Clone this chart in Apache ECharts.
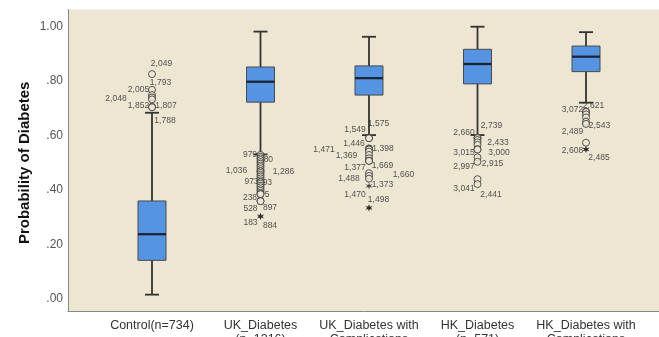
<!DOCTYPE html>
<html>
<head>
<meta charset="utf-8">
<script src="https://cdn.jsdelivr.net/npm/echarts@6/dist/echarts.min.js"></script>
<style>
html,body{margin:0;padding:0;background:#fff;overflow:hidden;}
#chart{width:659px;height:337px;}
</style>
</head>
<body>
<div id="chart"></div>
<script>
// ---------- data ----------
const categories = ['Control(n=734)', 'UK_Diabetes\n(n=1316)', 'UK_Diabetes with\nComplications', 'HK_Diabetes\n(n=571)', 'HK_Diabetes with\nComplications'];
const whiskerLow  = [0.016, 0.531, 0.602, 0.602, 0.721];
const q1          = [0.142, 0.723, 0.749, 0.790, 0.835];
const median      = [0.238, 0.798, 0.811, 0.863, 0.890];
const q3          = [0.360, 0.852, 0.856, 0.917, 0.929];
const whiskerHigh = [0.684, 0.982, 0.963, 1.000, 0.980];
const yTickLabels = ['.00', '.20', '.40', '.60', '.80', '1.00'];

const controlValues = [0.826, 0.768, 0.749, 0.740, 0.733, 0.706, 0.704];
const controlIds    = ['2,049', '1,793', '2,005', '2,048', '', '1,852', '1,807'];
const ukValues = [0.529, 0.522, 0.516, 0.510, 0.503, 0.497, 0.490, 0.484, 0.477, 0.470, 0.469, 0.463, 0.456, 0.450, 0.443, 0.436, 0.430, 0.429, 0.423, 0.416, 0.410, 0.403, 0.397, 0.390, 0.386, 0.385, 0.360, 0.359, 0.305, 0.302];
const ukIds    = ['979', '', '', '980', '', '', '', '', '', '1,036', '1,286', '', '', '', '', '', '973', '993', '', '', '', '', '', '', '238', '5', '528', '897', '183', '884'];
const ukcValues = [0.592, 0.590, 0.553, 0.551, 0.549, 0.541, 0.529, 0.517, 0.508, 0.507, 0.462, 0.452, 0.442, 0.415, 0.335, 0.334];
const ukcIds    = ['1,549', '1,575', '1,446', '1,398', '1,471', '', '1,369', '', '1,377', '1,669', '1,660', '1,488', '', '1,373', '1,470', '1,498'];
const hkValues = [0.592, 0.591, 0.584, 0.575, 0.566, 0.550, 0.549, 0.520, 0.504, 0.440, 0.422];
const hkIds    = ['2,739', '2,660', '2,433', '', '', '3,015', '3,000', '2,915', '2,997', '3,041', '2,441'];
const hkcValues = [0.688, 0.687, 0.678, 0.667, 0.651, 0.643, 0.574, 0.550, 0.549];
const hkcIds    = ['3,072', '2,621', '', '', '2,543', '2,489', '', '2,608', '2,485'];
const whiskerEndIds = ['1,788', '', '', '', ''];

// ---------- label layout (pixel offsets from the point) ----------
const labelOffset = {
  '2,049': [9.5, -10], '1,793': [8.5, -7.2], '2,005': [-13.5, -5.7], '2,048': [-36, 0.8],
  '1,852': [-13.5, -0.8], '1,807': [14, -2], '1,788': [13, 8.3],
  '979': [-10.5, 0], '980': [5.5, 0], '1,036': [-24, 0], '1,286': [23, 0], '973': [-9, 0], '993': [4.5, 0],
  '238': [-10.5, 3.4], '5': [6.5, 0], '528': [-10, 8], '897': [9.5, 6], '183': [-10, 7], '884': [9.5, 9],
  '1,549': [-14, -7.8], '1,575': [9.5, -14.6], '1,446': [-15, -4.4], '1,398': [14, 0], '1,471': [-45, 0],
  '1,369': [-22.5, 0.7], '1,377': [-14, 7], '1,669': [13.5, 4.6], '1,660': [34.5, 1.5], '1,488': [-20, 2.8],
  '1,373': [13.5, -1], '1,470': [-14, -13.5], '1,498': [9.5, -8.5],
  '2,739': [14, -12.1], '2,660': [-13.5, -5], '2,433': [20.5, 2.7], '3,015': [-13.5, 3.1], '3,000': [21.5, 3],
  '2,915': [15, 6.6], '2,997': [-13.5, 5], '3,041': [-13.5, 9.5], '2,441': [13.5, 10.2],
  '3,072': [-13.5, -1.7], '2,621': [7.5, -6], '2,543': [13.5, 4], '2,489': [-13.5, 7.6],
  '2,608': [-13.5, 1.5], '2,485': [13, 8]
};

// ---------- build series data ----------
const groupValues = [controlValues, ukValues, ukcValues, hkValues, hkcValues];
const groupIds = [controlIds, ukIds, ukcIds, hkIds, hkcIds];
const boxData = categories.map((c, i) => [i, whiskerLow[i], q1[i], median[i], q3[i], whiskerHigh[i]]);
const circleData = [], starData = [], labelData = [];
groupValues.forEach((vals, g) => {
  const iqr = q3[g] - q1[g];
  vals.forEach((v, k) => {
    const extreme = v < q1[g] - 3 * iqr || v > q3[g] + 3 * iqr;
    (extreme ? starData : circleData).push([g, v]);
    const id = groupIds[g][k];
    if (id) labelData.push({ value: [g, v], label: { formatter: id, offset: labelOffset[id] } });
  });
  const wid = whiskerEndIds[g];
  if (wid) labelData.push({ value: [g, whiskerHigh[g]], label: { formatter: wid, offset: labelOffset[wid] } });
});

const FONT = 'Liberation Sans, Arial, sans-serif';
const BG = '#ECE6D3';
const chart = echarts.init(document.getElementById('chart'), null, { renderer: 'canvas' });

chart.setOption({
  animation: false,
  backgroundColor: '#ffffff',
  textStyle: { fontFamily: FONT },
  grid: [
    { left: 68, right: 0, top: 9.5, bottom: 26, show: true, backgroundColor: BG, borderWidth: 0,
      containLabel: false, outerBoundsMode: 'none' },
    { left: 97.75, width: 542.5, top: 26.7, height: 272.3, containLabel: false, outerBoundsMode: 'none' }
  ],
  xAxis: [
    { gridIndex: 0, type: 'value', min: 0, max: 1, axisLine: { show: true, lineStyle: { color: '#888', width: 1 } },
      axisTick: { show: false }, axisLabel: { show: false }, splitLine: { show: false } },
    { gridIndex: 1, type: 'category', data: categories, offset: 12,
      axisLine: { show: false }, axisTick: { show: false }, splitLine: { show: false },
      axisLabel: { interval: 0, margin: 8, fontSize: 12.5, color: '#333', lineHeight: 14, fontFamily: FONT } }
  ],
  yAxis: [
    { gridIndex: 0, type: 'value', min: 0, max: 1, axisLine: { show: true, lineStyle: { color: '#888', width: 1 } },
      axisTick: { show: false }, axisLabel: { show: false }, splitLine: { show: false } },
    { gridIndex: 1, type: 'value', min: 0, max: 1, interval: 0.2, offset: 29.75,
      axisLine: { show: false }, axisTick: { show: false }, splitLine: { show: false },
      axisLabel: { margin: 5, fontSize: 12, color: '#555', fontFamily: FONT,
        formatter: v => yTickLabels[Math.round(v / 0.2)] || '' },
      name: 'Probability of Diabetes', nameLocation: 'middle', nameGap: 36, nameMoveOverlap: false,
      nameTextStyle: { fontSize: 15, fontWeight: 'bold', color: '#111', fontFamily: FONT } }
  ],
  series: [
    {
      type: 'custom', xAxisIndex: 1, yAxisIndex: 1, z: 2, silent: true,
      data: boxData,
      encode: { x: 0, y: [1, 2, 3, 4, 5] },
      renderItem: function (params, api) {
        const i = api.value(0);
        const pLow = api.coord([i, api.value(1)]);
        const pQ1 = api.coord([i, api.value(2)]);
        const pMed = api.coord([i, api.value(3)]);
        const pQ3 = api.coord([i, api.value(4)]);
        const pHigh = api.coord([i, api.value(5)]);
        const band = api.size([1, 0])[0];
        const bw = band * 0.258;
        const cw = bw / 2;
        const x = pQ1[0];
        const wStyle = { stroke: '#333', lineWidth: 1.8 };
        return {
          type: 'group',
          children: [
            { type: 'line', shape: { x1: x, y1: pLow[1], x2: x, y2: pQ1[1] }, style: wStyle },
            { type: 'line', shape: { x1: x, y1: pQ3[1], x2: x, y2: pHigh[1] }, style: wStyle },
            { type: 'line', shape: { x1: x - cw / 2, y1: pLow[1], x2: x + cw / 2, y2: pLow[1] }, style: wStyle },
            { type: 'line', shape: { x1: x - cw / 2, y1: pHigh[1], x2: x + cw / 2, y2: pHigh[1] }, style: wStyle },
            { type: 'rect', shape: { x: x - bw / 2, y: pQ3[1], width: bw, height: pQ1[1] - pQ3[1] },
              style: { fill: '#5494E2', stroke: '#4a4a4a', lineWidth: 1 } },
            { type: 'line', shape: { x1: x - bw / 2, y1: pMed[1], x2: x + bw / 2, y2: pMed[1] },
              style: { stroke: '#1a2230', lineWidth: 2.2 } }
          ]
        };
      }
    },
    {
      type: 'scatter', xAxisIndex: 1, yAxisIndex: 1, z: 3, silent: true,
      data: labelData, symbolSize: 1, itemStyle: { color: 'transparent' },
      label: { show: true, position: 'inside', fontSize: 8.5, color: '#2a2a2a', fontFamily: FONT },
      emphasis: { disabled: true }
    },
    {
      type: 'scatter', xAxisIndex: 1, yAxisIndex: 1, z: 5, silent: true, clip: false,
      data: circleData, symbol: 'circle', symbolSize: 7,
      itemStyle: { color: BG, borderColor: '#333', borderWidth: 1 },
      emphasis: { disabled: true }
    },
    {
      type: 'scatter', xAxisIndex: 1, yAxisIndex: 1, z: 6, silent: true, clip: false,
      data: starData,
      symbol: 'path://M5,0 L6,3.6 L9.5,2.5 L7,5 L9.5,7.5 L6,6.4 L5,10 L4,6.4 L0.5,7.5 L3,5 L0.5,2.5 L4,3.6 Z',
      symbolSize: 7,
      itemStyle: { color: '#222' },
      emphasis: { disabled: true }
    }
  ]
});
</script>
</body>
</html>
